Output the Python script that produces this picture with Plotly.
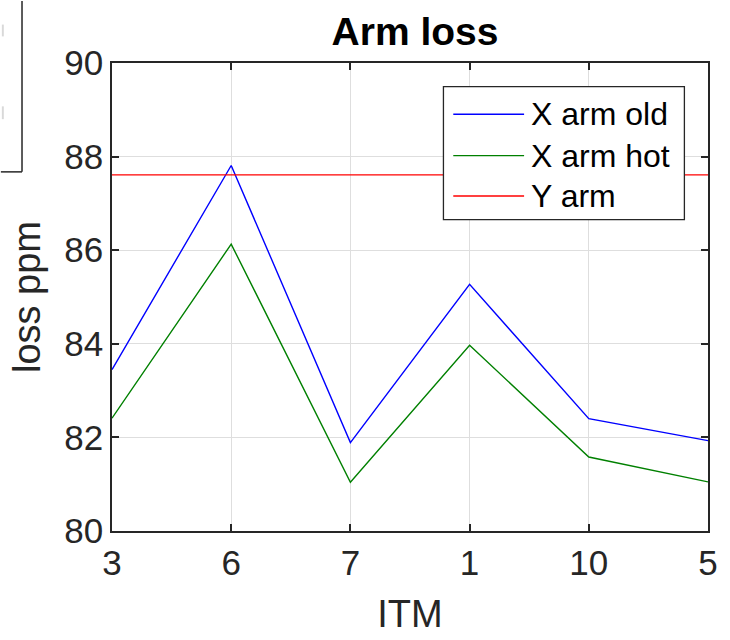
import plotly.graph_objects as go

# ITM ordering along the x axis
itm_labels = ["3", "6", "7", "1", "10", "5"]

# Arm loss in ppm per ITM
x_arm_old = [83.45, 87.81, 81.89, 85.27, 82.40, 81.93]
x_arm_hot = [82.41, 86.13, 81.04, 83.97, 81.58, 81.05]
y_arm = [87.61, 87.61, 87.61, 87.61, 87.61, 87.61]

series_names = ["X arm old", "X arm hot", "Y arm"]
series_colors = ["#0000ff", "#008000", "#ff0000"]

FONT = "Liberation Sans, Arial, Helvetica, sans-serif"
AXIS_COLOR = "#262626"
GRID_COLOR = "#dedede"

W, H = 730, 640
L, R, T, B = 112, 12, 63, 102
PW, PH = W - L - R, H - T - B


def px(xp):
    return (xp - L) / PW


def py(yp):
    return (H - B - yp) / PH


xs = list(range(len(itm_labels)))
fig = go.Figure()
for name, vals, col in zip(series_names, [x_arm_old, x_arm_hot, y_arm], series_colors):
    fig.add_trace(go.Scatter(x=xs, y=vals, mode="lines", name=name,
                             line=dict(color=col, width=1.4), showlegend=False))

axis_common = dict(
    showline=True, linecolor=AXIS_COLOR, linewidth=1.5, mirror="allticks",
    ticks="inside", ticklen=7, tickwidth=1.5, tickcolor=AXIS_COLOR,
    showgrid=True, gridcolor=GRID_COLOR, gridwidth=1, zeroline=False,
    tickfont=dict(family=FONT, size=35, color=AXIS_COLOR),
)

fig.update_xaxes(
    **axis_common, range=[0, len(itm_labels) - 1],
    tickmode="array", tickvals=xs, ticktext=itm_labels,
    title=dict(text="ITM", font=dict(family=FONT, size=38, color=AXIS_COLOR), standoff=20),
)
fig.update_yaxes(
    **axis_common, range=[80, 90], tickvals=[80, 82, 84, 86, 88, 90],
    title=dict(text="loss ppm", font=dict(family=FONT, size=38, color=AXIS_COLOR), standoff=12),
)

shapes = []
annotations = []

# Legend box, drawn in pixel-equivalent paper units
lx0, lx1, ly0, ly1 = 449, 694, 87, 222
shapes.append(dict(type="rect", xref="paper", yref="paper",
                   x0=px(lx0), x1=px(lx1), y0=py(ly1), y1=py(ly0),
                   line=dict(color=AXIS_COLOR, width=1.3), fillcolor="white", layer="above"))
row_y = [115, 157, 198]
for name, col, ry in zip(series_names, series_colors, row_y):
    shapes.append(dict(type="line", xref="paper", yref="paper",
                       x0=px(459), x1=px(531), y0=py(ry), y1=py(ry),
                       line=dict(color=col, width=1.4), layer="above"))
    annotations.append(dict(xref="paper", yref="paper", x=px(536), y=py(ry),
                            xanchor="left", yanchor="middle", showarrow=False,
                            text=name, font=dict(family=FONT, size=32, color="#000000")))

# Edge of the neighbouring panel at the top-left corner
shapes.append(dict(type="line", xref="paper", yref="paper",
                   x0=px(20.5), x1=px(20.5), y0=py(0), y1=py(173.5),
                   line=dict(color=AXIS_COLOR, width=1.5)))
shapes.append(dict(type="line", xref="paper", yref="paper",
                   x0=px(-1), x1=px(20.5), y0=py(173.5), y1=py(173.5),
                   line=dict(color=AXIS_COLOR, width=1.5)))
for yy0, yy1 in [(24, 36), (107, 120)]:
    shapes.append(dict(type="rect", xref="paper", yref="paper",
                       x0=px(0), x1=px(2), y0=py(yy1), y1=py(yy0),
                       line=dict(width=0), fillcolor="#d9d9d9"))

fig.update_layout(
    width=W, height=H,
    margin=dict(l=L, r=R, t=T, b=B),
    paper_bgcolor="white", plot_bgcolor="white",
    title=dict(text="<b>Arm loss</b>", x=(L + PW / 2) / W, xanchor="center",
               y=1 - 31 / H, yanchor="middle",
               font=dict(family=FONT, size=39, color="#000000")),
    shapes=shapes, annotations=annotations,
    showlegend=False,
)

fig.write_html("out.html")
